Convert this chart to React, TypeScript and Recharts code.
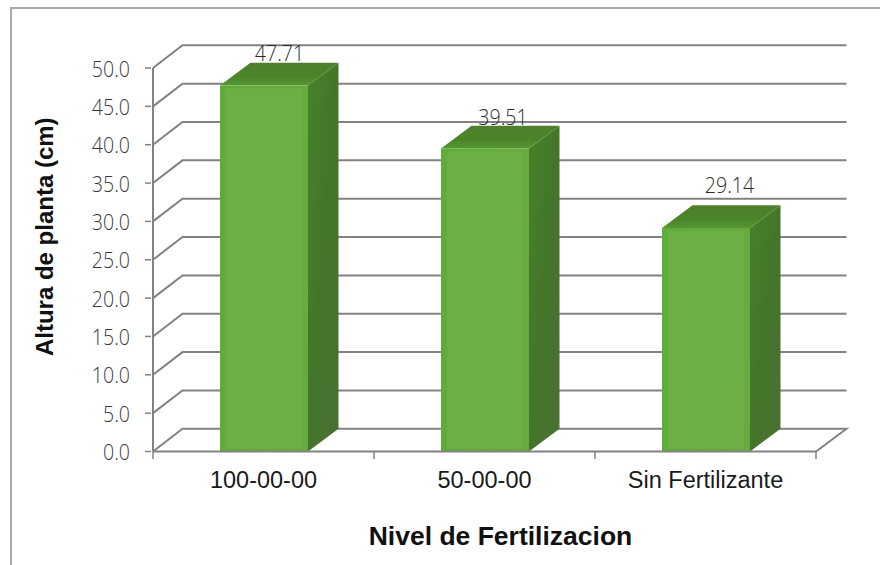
import React from 'react';
import { BarChart, Bar, XAxis, YAxis, CartesianGrid, LabelList } from 'recharts';

const categories = ['100-00-00', '50-00-00', 'Sin Fertilizante'];
const alturas = [47.71, 39.51, 29.14];
const yTicks = [0, 5, 10, 15, 20, 25, 30, 35, 40, 45, 50];
const labelDx = [15.5, 18, 23.5];
const labelDy = [-24.5, -23.5, -34.5];

const DX = 30.5;
const DY = -22.7;
const GRID = '#828282';
const WIDTH = 880;
const HEIGHT = 565;
const RIGHT = 816;
const LEFT = 153;
const BAND = (RIGHT - LEFT) / categories.length;
const THIN = "'Open Sans', 'Liberation Sans'";

const data = categories.map((c, i) => ({ c, v: alturas[i], i }));

const Box = (p: any) => {
  const { x, y, width: w, height: h } = p;
  const side = `${x + w},${y} ${x + w + DX},${y + DY} ${x + w + DX},${y + h + DY} ${x + w},${y + h}`;
  const top = `${x},${y} ${x + DX},${y + DY} ${x + w + DX},${y + DY} ${x + w},${y}`;
  return (
    <g>
      <polygon points={side} fill="url(#sideG)" />
      <polygon points={top} fill="url(#topG)" />
      <rect x={x} y={y} width={w} height={h} fill="url(#frontEdge)" />
      <rect x={x + 6} y={y + 3} width={w - 12} height={h - 6} fill="#6cb045" />
    </g>
  );
};

const GridLine = (p: any) => {
  const { x1, y1, y2, x2 } = p;
  const isFloor = Math.abs(y1 - 451.5) < 1;
  const pts = `${x1},${y1} ${x1 + DX - 1},${y1 + DY} ${x2 + DX},${y2 + DY}` + (isFloor ? ` ${x2},${y2}` : '');
  return <polyline points={pts} fill="none" stroke={GRID} strokeWidth={2} />;
};

const YTick = (p: any) => (
  <g>
    <line x1={p.x} x2={p.x + 6} y1={p.y} y2={p.y} stroke={GRID} strokeWidth={1.5} />
    <text transform={`translate(${p.x - 15},${p.y + 8.5}) scale(0.87,1)`} textAnchor="end" fontFamily={THIN} fontSize={22.5} fill="#3a3a3a" fontWeight={300}>
      {Number(p.payload.value).toFixed(1)}
    </text>
  </g>
);

const XTick = (p: any) => {
  const left = p.x - BAND / 2;
  return (
    <g>
      <line x1={left} x2={left} y1={451.5} y2={459} stroke={GRID} strokeWidth={1.5} />
      {p.index === categories.length - 1 && (
        <line x1={left + BAND} x2={left + BAND} y1={451.5} y2={459} stroke={GRID} strokeWidth={1.5} />
      )}
      <text x={p.x} y={488} textAnchor="middle" fontFamily="'Liberation Sans'" fontSize={23.5} fill="#1a1a1a">
        {p.payload.value}
      </text>
    </g>
  );
};

const ValueLabel = (p: any) => {
  const i = p.index;
  return (
    <text transform={`translate(${p.x + p.width / 2 + labelDx[i]},${p.y + labelDy[i]}) scale(0.87,1)`} textAnchor="middle" fontFamily={THIN} fontSize={22.5} fontWeight={300} fill="#2c2c2c">
      {Number(p.value).toFixed(2)}
    </text>
  );
};

export default function App() {
  return (
    <div style={{ position: 'absolute', left: 0, top: 0, width: WIDTH, height: HEIGHT, overflow: 'hidden', background: '#fff' }}>
      <div style={{ position: 'absolute', left: 10, top: 7, right: 0, bottom: 0, borderLeft: '2px solid #aaaaaa', borderTop: '2px solid #aaaaaa' }} />
      <div style={{ position: 'absolute', left: 0, top: 0 }}>
        <BarChart width={WIDTH} height={HEIGHT} data={data} margin={{ top: 68, right: 64, bottom: 3.5, left: 93 }} barSize={88}>
          <defs>
            <linearGradient id="sideG" x1="0" y1="0" x2="1" y2="1">
              <stop offset="0%" stopColor="#46822a" />
              <stop offset="50%" stopColor="#44752a" />
              <stop offset="100%" stopColor="#4a7034" />
            </linearGradient>
            <linearGradient id="topG" x1="0" y1="0" x2="0" y2="1">
              <stop offset="0%" stopColor="#4f7f2c" />
              <stop offset="60%" stopColor="#4a8529" />
              <stop offset="100%" stopColor="#559632" />
            </linearGradient>
            <linearGradient id="frontEdge" x1="0" y1="0" x2="1" y2="0">
              <stop offset="0%" stopColor="#5fac38" />
              <stop offset="100%" stopColor="#66ab3e" />
            </linearGradient>
          </defs>
          <CartesianGrid vertical={false} horizontal={GridLine as any} syncWithTicks />
          <XAxis
            dataKey="c"
            height={110}
            axisLine={{ stroke: GRID, strokeWidth: 2 }}
            tickLine={false}
            tick={XTick as any}
            interval={0}
            label={{ value: 'Nivel de Fertilizacion', position: 'insideBottom', offset: 16.5, dx: 16, fontFamily: "'Liberation Sans'", fontWeight: 700, fontSize: 26.5, fill: '#111' }}
          />
          <YAxis
            domain={[0, 50]}
            ticks={yTicks}
            width={60}
            axisLine={{ stroke: GRID, strokeWidth: 2 }}
            tickLine={false}
            tick={YTick as any}
            interval={0}
            label={{ value: 'Altura de planta (cm)', angle: -90, position: 'insideLeft', textAnchor: 'middle', dx: -54, dy: -23, fontFamily: "'Liberation Sans'", fontWeight: 700, fontSize: 24, fill: '#111' }}
          />
          <Bar dataKey="v" isAnimationActive={false} shape={Box as any}>
            <LabelList dataKey="v" content={ValueLabel as any} />
          </Bar>
        </BarChart>
      </div>
    </div>
  );
}
